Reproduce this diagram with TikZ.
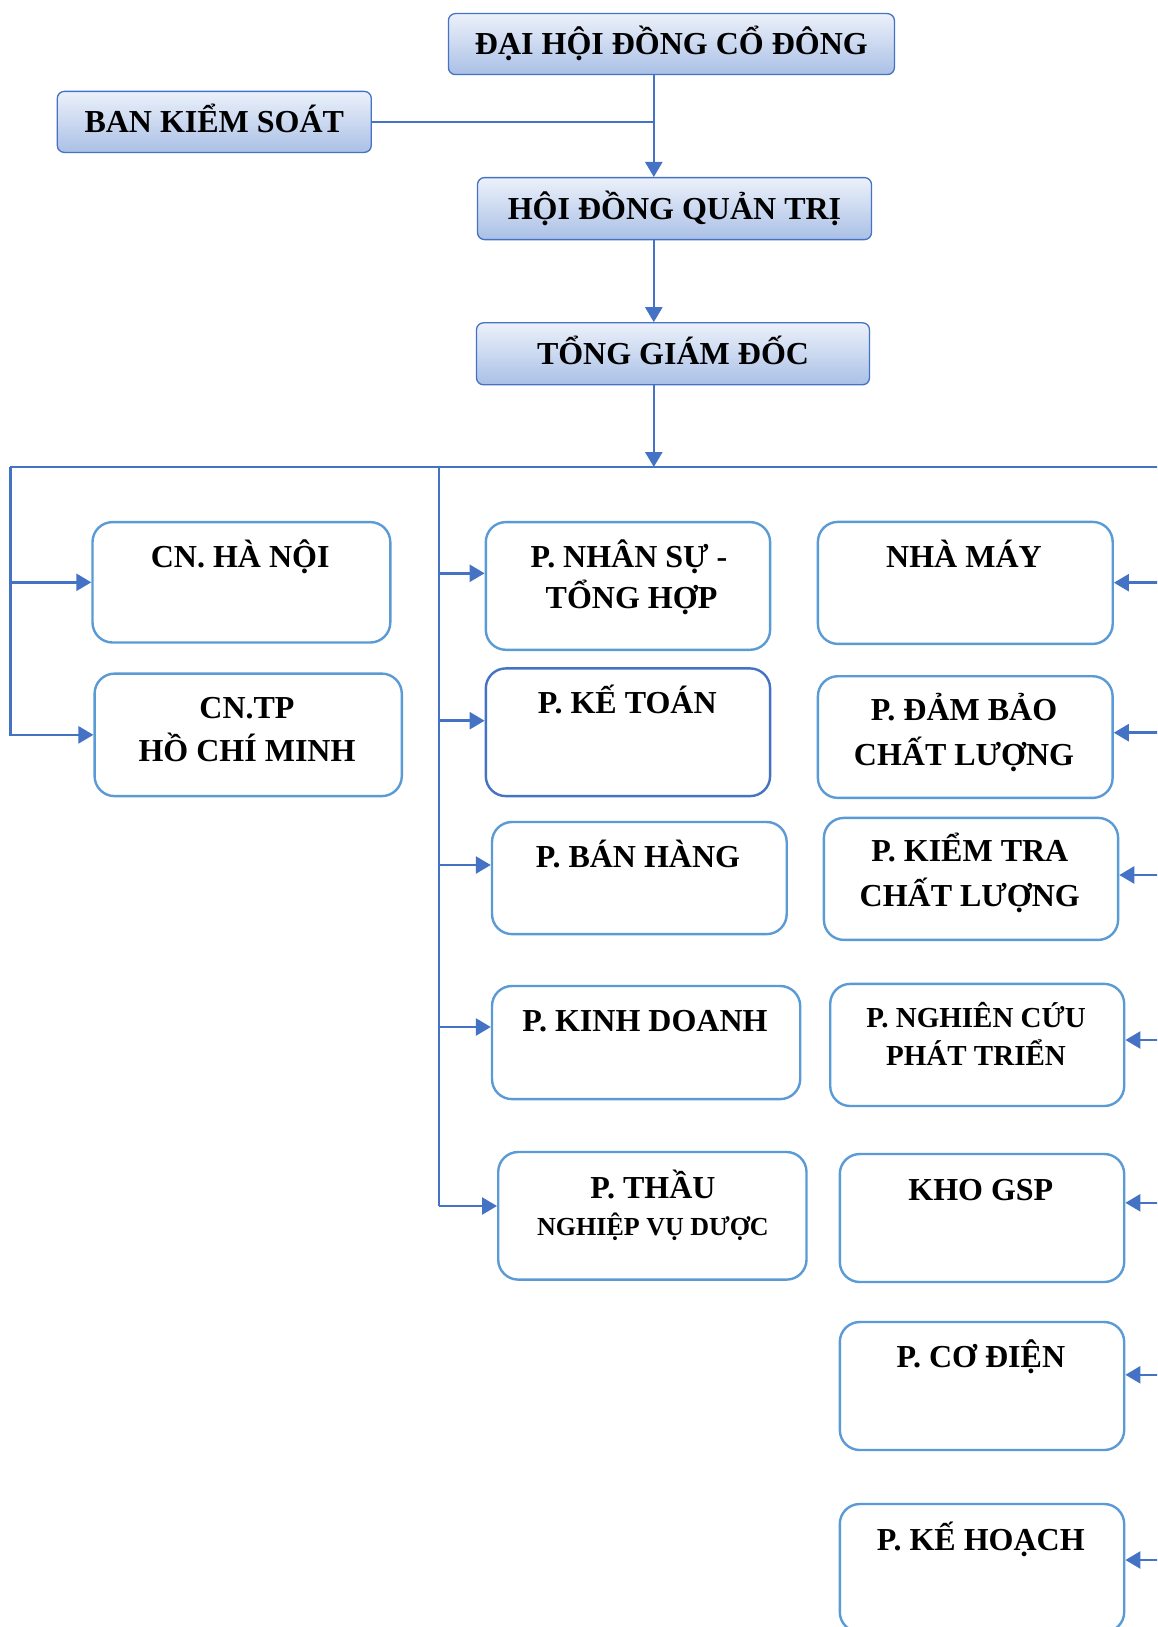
\documentclass[tikz,border=0pt]{standalone}
\usepackage{fontspec}
\setmainfont{Liberation Serif}
\usetikzlibrary{arrows.meta}
\definecolor{conn}{RGB}{68,114,196}
\definecolor{deptline}{RGB}{91,155,213}
\definecolor{topA}{RGB}{236,241,250}
\definecolor{topB}{RGB}{170,192,230}
\tikzset{
  topbox/.style={draw=conn, line width=1.3pt, rounded corners=7pt, top color=topA, bottom color=topB,
    inner sep=0pt, font=\fontsize{32}{38}\selectfont\bfseries, text height=21pt, text depth=0pt},
  deptbox/.style={draw=deptline, line width=2.4pt, rounded corners=20pt, fill=white, inner sep=0pt, anchor=north west},
  dtext/.style={anchor=north, inner sep=0pt, align=center},
  link/.style={draw=conn, line width=2.6pt},
  arr/.style={link, -{Triangle[length=15pt,width=17pt]}}
}
\newcommand{\sz}[2]{\fontsize{#1}{#2}\selectfont\bfseries}
\newcommand{\tl}{\rule{0pt}{32pt}}
\begin{document}
\begin{tikzpicture}[x=1pt,y=-1pt]
\useasboundingbox (0,0) rectangle (1157,1627);
\clip (0,0) rectangle (1157,1627);
\fill[white] (0,0) rectangle (1157,1627);

% top boxes
\node[topbox, minimum width=446pt, minimum height=61pt] (dh) at (671.4,44.1) {ĐẠI HỘI ĐỒNG CỔ ĐÔNG};
\node[topbox, minimum width=314pt, minimum height=61pt] (bks) at (214.3,121.9) {BAN KIỂM SOÁT};
\node[topbox, minimum width=394pt, minimum height=62pt] (hd) at (674.5,208.6) {HỘI ĐỒNG QUẢN TRỊ};
\node[topbox, minimum width=393pt, minimum height=62pt] (tgd) at (673,353.8) {TỔNG GIÁM ĐỐC};

% department boxes
\node[deptbox, minimum width=297.8pt, minimum height=120.4pt] (hn) at (91.3,520.9) {};
\node[deptbox, minimum width=307.2pt, minimum height=122.5pt] (tp) at (93.4,672.4) {};
\node[deptbox, minimum width=284.3pt, minimum height=127.7pt] (nhs) at (484.6,520.9) {};
\node[deptbox, draw=conn, minimum width=284.3pt, minimum height=127.7pt] (kt) at (484.6,667.2) {};
\node[deptbox, minimum width=294.7pt, minimum height=112.1pt] (bh) at (490.8,820.8) {};
\node[deptbox, minimum width=308.2pt, minimum height=113.1pt] (kd) at (490.8,984.8) {};
\node[deptbox, minimum width=308.3pt, minimum height=127.6pt] (th) at (497,1150.8) {};
\node[deptbox, minimum width=294.8pt, minimum height=122pt] (nm) at (816.7,520.7) {};
\node[deptbox, minimum width=294.7pt, minimum height=121.7pt] (db) at (816.7,675) {};
\node[deptbox, minimum width=294.2pt, minimum height=122pt] (ktcl) at (822.7,816.7) {};
\node[deptbox, minimum width=294pt, minimum height=122.1pt] (nc) at (829,982.7) {};
\node[deptbox, minimum width=284.4pt, minimum height=128pt] (kho) at (838.6,1152.8) {};
\node[deptbox, minimum width=284.4pt, minimum height=128pt] (cd) at (838.6,1320.8) {};
\node[deptbox, minimum width=284.4pt, minimum height=128pt] (kh) at (838.6,1502.8) {};

% department texts (north = first baseline - 32)
\node[dtext, font=\sz{32}{41.5}] (thn) at (240.2,535.3) {\tl CN. HÀ NỘI};
\node[dtext, font=\sz{32}{43}] (ttp) at (247,686.5) {\tl CN.TP\\HỒ CHÍ MINH};
\node[dtext, font=\sz{32}{41.5}] (tnhs) at (629,535) {\tl P. NHÂN SỰ -\hspace{-5pt}\\\hspace{5pt}TỔNG HỢP};
\node[dtext, font=\sz{32}{41.5}] (tkt) at (627.3,681.5) {\tl P. KẾ TOÁN};
\node[dtext, font=\sz{32}{41.5}] (tbh) at (638,835) {\tl P. BÁN HÀNG};
\node[dtext, font=\sz{32}{41.5}] (tkd) at (645,999) {\tl P. KINH DOANH};
\node[dtext, font=\sz{32}{37}] (tth) at (653,1166) {\tl P. THẦU\\{\sz{26}{30}NGHIỆP VỤ DƯỢC}};
\node[dtext, font=\sz{32}{41.5}] (tnm) at (964,535.3) {\tl NHÀ MÁY};
\node[dtext, font=\sz{32}{44.3}] (tdb) at (964,688.7) {\tl P. ĐẢM BẢO\\CHẤT LƯỢNG};
\node[dtext, font=\sz{32}{44.3}] (tktcl) at (969.8,829.7) {\tl P. KIỂM TRA\\CHẤT LƯỢNG};
\node[dtext, font=\sz{29}{38}] (tnc) at (976,995) {\tl P. NGHIÊN CỨU\\PHÁT TRIỂN};
\node[dtext, font=\sz{32}{41.5}] (tkho) at (980.8,1168) {\tl KHO GSP};
\node[dtext, font=\sz{32}{41.5}] (tcd) at (980.8,1334.8) {\tl P. CƠ ĐIỆN};
\node[dtext, font=\sz{32}{41.5}] (tkh) at (980.8,1518) {\tl P. KẾ HOẠCH};

% bus coordinates
\coordinate (busL) at (10.4,467);
\coordinate (busM) at (439,467);
\coordinate (busT) at (653.8,467);
\coordinate (busR) at (1170,467);
\coordinate (midEnd) at (439,1206);
\coordinate (rEnd) at (1170,1560);

% top connectors
\draw[arr] (dh.south -| busT) -- (hd.north -| busT);
\draw[link] (bks.east) -- (bks.east -| busT);
\draw[arr] (hd.south -| busT) -- (tgd.north -| busT);
\draw[arr] (tgd.south -| busT) -- (busT);

% bus and spines
\draw[link] (busL) -- (busR);
\draw[link] (busM) -- (midEnd);
\draw[link] (busR) -- (rEnd);
\draw[arr] (busL) |- (hn.west);
\draw[arr] (busL) |- (tp.west);

\draw[arr] (busM |- 0,573.3) -- (nhs.west |- 0,573.3);
\draw[arr] (busM |- 0,720.7) -- (kt.west |- 0,720.7);
\draw[arr] (busM |- 0,865) -- (bh.west |- 0,865);
\draw[arr] (busM |- 0,1027) -- (kd.west |- 0,1027);
\draw[arr] (midEnd) -- (th.west |- midEnd);

\draw[arr] (busR |- 0,582.7) -- (nm.east |- 0,582.7);
\draw[arr] (busR |- 0,732.7) -- (db.east |- 0,732.7);
\draw[arr] (busR |- 0,875) -- (ktcl.east |- 0,875);
\draw[arr] (busR |- 0,1040) -- (nc.east |- 0,1040);
\draw[arr] (busR |- 0,1202.8) -- (kho.east |- 0,1202.8);
\draw[arr] (busR |- 0,1374.8) -- (cd.east |- 0,1374.8);
\draw[arr] (rEnd) -- (kh.east |- rEnd);
\end{tikzpicture}
\end{document}
